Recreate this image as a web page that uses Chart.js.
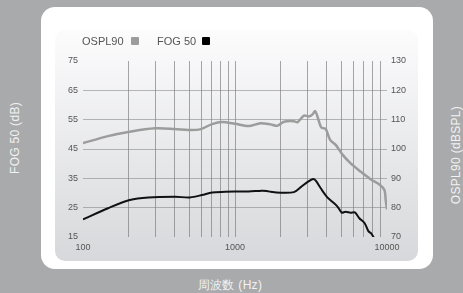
<!DOCTYPE html>
<html>
<head>
<meta charset="utf-8">
<script src="https://cdn.jsdelivr.net/npm/chart.js@4"></script>
<style>
  body { margin:0; width:463px; height:293px; background:#a9aaac; position:relative; overflow:hidden;
         font-family:"Liberation Sans", Arial, sans-serif; }
  #panel { position:absolute; left:41px; top:7px; width:392px; height:262px; background:#fff; border-radius:14px; }
  #inner { position:absolute; left:55px; top:30px; width:363px; height:231px; border-radius:10px;
           background:linear-gradient(#fcfcfd, #d7d8db); }
  #wrap  { position:absolute; left:55px; top:30px; width:363px; height:231px; }
  .lg    { position:absolute; top:35px; font-size:11px; line-height:12px; color:#555; }
  .sw    { position:absolute; top:37px; width:8px; height:8px; border-radius:1px; }
  .ttl   { position:absolute; font-size:12px; color:#f2f2f2; white-space:nowrap; letter-spacing:0.3px; }
</style>
</head>
<body>
<div id="panel"></div>
<div id="inner"></div>
<div id="wrap"><canvas id="chart"></canvas></div>

<span class="lg" style="left:82px">OSPL90</span>
<span class="sw" style="left:131px;background:#9c9c9c"></span>
<span class="lg" style="left:157px">FOG 50</span>
<span class="sw" style="left:202px;background:#000"></span>

<div class="ttl" style="left:15px;top:138px;transform:translate(-50%,-50%) rotate(-90deg)">FOG 50 (dB)</div>
<div class="ttl" style="left:456px;top:155px;transform:translate(-50%,-50%) rotate(-90deg)">OSPL90 (dBSPL)</div>
<div class="ttl" style="left:230px;top:285px;transform:translate(-50%,-50%)">周波数 (Hz)</div>

<script>
// ── data ──────────────────────────────────────────
const osplFreq = [100, 146, 203, 298, 404, 494, 590, 707, 822, 1000, 1230, 1470, 1712, 1897, 2099, 2441,
                  2572, 2845, 3066, 3238, 3367, 3490, 3703, 3956, 4224, 4599, 5112, 5770, 6701, 7842,
                  8916, 9620, 9806, 10000];
const osplVal  = [102, 104.4, 105.9, 107.05, 106.8, 106.5, 106.7, 108.5, 109.2, 108.6, 107.8, 108.8, 108.4, 107.9, 109.3, 109.5,
                  109.1, 111.4, 111.1, 111.8, 112.95, 111.0, 107.3, 106.8, 103.1, 101.4, 98, 95.1, 92.3, 89.6,
                  87.9, 86, 82.6, 79.4];

const fogFreq  = [100, 146, 203, 269, 404, 506, 606, 707, 862, 1000, 1230, 1500, 1620, 1714, 2000, 2441,
                  2696, 2993, 3265, 3400, 3665, 4050, 4372, 4735, 5036, 5330, 5770, 6145, 6574, 7130,
                  7542, 7842, 8176];
const fogVal   = [21, 24.8, 27.6, 28.5, 28.7, 28.5, 29.3, 30.2, 30.4, 30.5, 30.5, 30.8, 30.7, 30.4, 30.1, 30.3,
                  31.9, 33.7, 34.8, 34.2, 31.6, 28.5, 27, 25.3, 23.3, 23.6, 23.3, 23.4, 21.4, 19.7,
                  17.0, 16.3, 14.9];

const xTicks      = [100, 200, 300, 400, 500, 600, 700, 800, 900, 1000,
                     2000, 3000, 4000, 5000, 6000, 7000, 8000, 9000, 10000];
const xTickLabels = [100, 1000, 10000];

const tickFont = { family: '"Liberation Sans", Arial, sans-serif', size: 9 };
const tickColor = '#555';

new Chart(document.getElementById('chart'), {
  type: 'line',
  data: {
    datasets: [
      {
        label: 'OSPL90',
        data: osplFreq.map((f, i) => ({ x: f, y: osplVal[i] })),
        yAxisID: 'y1',
        borderColor: '#9c9c9c',
        borderWidth: 2.5,
        pointRadius: 0,
        tension: 0.3
      },
      {
        label: 'FOG 50',
        data: fogFreq.map((f, i) => ({ x: f, y: fogVal[i] })),
        yAxisID: 'y',
        borderColor: '#111',
        borderWidth: 2,
        pointRadius: 0,
        tension: 0.3
      }
    ]
  },
  options: {
    responsive: true, maintainAspectRatio: false, animation: false,
    layout: { padding: { top: 31, left: 0, right: 0, bottom: 0 } },
    plugins: { legend: { display: false }, tooltip: { enabled: false } },
    scales: {
      x: {
        type: 'logarithmic', min: 100, max: 10000,
        afterBuildTicks: s => { s.ticks = xTicks.map(v => ({ value: v })); },
        afterFit: s => { s.height = 24; },
        border: { display: false },
        grid: {
          drawTicks: false,
          color: c => (c.tick && (c.tick.value === 100 || c.tick.value === 10000)) ? 'rgba(0,0,0,0)' : 'rgba(120,120,120,0.65)'
        },
        ticks: {
          autoSkip: false, maxRotation: 0, padding: 5, color: tickColor, font: tickFont,
          callback: v => xTickLabels.includes(v) ? String(v) : ''
        }
      },
      y: {
        position: 'left', min: 15, max: 75,
        afterFit: s => { s.width = 28; },
        border: { display: false },
        grid: {
          drawTicks: false,
          color: c => (c.tick && (c.tick.value === 15 || c.tick.value === 75)) ? 'rgba(0,0,0,0)' : 'rgba(130,130,130,0.55)'
        },
        ticks: { stepSize: 10, padding: 5, color: tickColor, font: tickFont }
      },
      y1: {
        position: 'right', min: 70, max: 130,
        afterFit: s => { s.width = 31; },
        border: { display: false },
        grid: { display: false, drawTicks: false },
        ticks: { stepSize: 10, padding: 4, color: tickColor, font: tickFont }
      }
    }
  }
});
</script>
</body>
</html>
